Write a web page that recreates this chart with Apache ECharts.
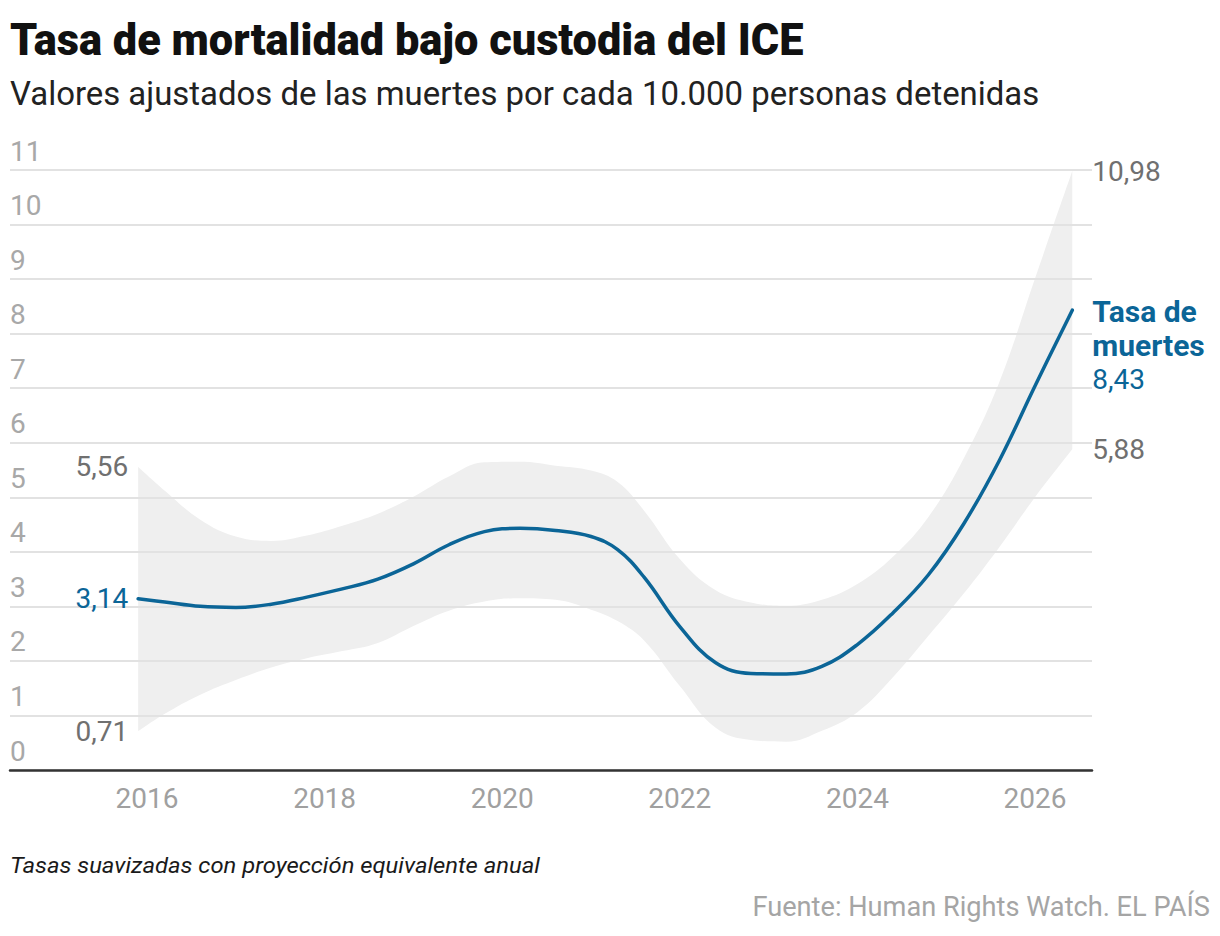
<!DOCTYPE html>
<html>
<head>
<meta charset="utf-8">
<script src="https://cdn.jsdelivr.net/npm/echarts@6/dist/echarts.min.js"></script>
<style>
html,body{margin:0;padding:0;background:#ffffff;}
#chart{width:1220px;height:936px;}
</style>
</head>
<body>
<div id="chart"></div>
<script>
// ---------- texts ----------
const titleText = 'Tasa de mortalidad bajo custodia del ICE';
const subtitleText = 'Valores ajustados de las muertes por cada 10.000 personas detenidas';
const noteText = 'Tasas suavizadas con proyección equivalente anual';
const sourceText = 'Fuente: Human Rights Watch. EL PAÍS';
const seriesName = 'Tasa de muertes';

// ---------- axes ----------
const xTickLabels = [2016, 2018, 2020, 2022, 2024, 2026];
const xRange = [2014.457, 2026.642];
const yMin = 0, yMax = 11, yStep = 1;

// ---------- data (decimal years) ----------
const years = [2015.9, 2016.2, 2016.6, 2017.0, 2017.4, 2017.8, 2018.2, 2018.6, 2019.0, 2019.4,
  2019.8, 2020.2, 2020.6, 2021.0, 2021.3, 2021.6, 2022.0, 2022.4, 2022.8, 2023.2,
  2023.6, 2024.0, 2024.4, 2024.8, 2025.2, 2025.6, 2026.0, 2026.42];
const rateValues = [3.14, 3.08, 3.00, 2.98, 3.04, 3.17, 3.32, 3.50, 3.78, 4.13,
  4.37, 4.43, 4.39, 4.28, 4.04, 3.53, 2.63, 1.97, 1.77, 1.76,
  1.90, 2.30, 2.88, 3.58, 4.52, 5.68, 7.04, 8.43];
const upperValues = [5.56, 5.12, 4.59, 4.28, 4.20, 4.30, 4.48, 4.70, 5.01, 5.38,
  5.64, 5.65, 5.58, 5.49, 5.28, 4.75, 3.87, 3.30, 3.07, 3.01,
  3.12, 3.41, 3.91, 4.64, 5.72, 7.12, 9.01, 10.98];
const lowerValues = [0.71, 1.03, 1.38, 1.65, 1.88, 2.05, 2.18, 2.33, 2.64, 2.92,
  3.09, 3.15, 3.12, 2.94, 2.73, 2.37, 1.54, 0.78, 0.55, 0.52,
  0.72, 1.06, 1.70, 2.46, 3.24, 4.09, 5.00, 5.88];

// ---------- styling ----------
const FONT = 'Roboto, "Liberation Sans", sans-serif';
const BLUE = '#0b6597';
const GREY_LABEL = '#707070';
const BAND = '#efefef';

function fmt(v) { return v.toFixed(2).replace('.', ','); }
function fitScale(text, font, target) {
  const ctx = document.createElement('canvas').getContext('2d');
  ctx.font = font;
  const w = ctx.measureText(text).width;
  return w > 0 ? target / w : 1;
}
function endLabel(side, color) {
  return { show: true, position: side, distance: side === 'left' ? 10 : 20, color: color,
    fontFamily: FONT, fontSize: 28 };
}

// band: value first, year second (so that the stack adds up the values)
const lowerData = years.map((x, i) => {
  const item = { value: [lowerValues[i], x] };
  if (i === 0) item.label = Object.assign(endLabel('left', GREY_LABEL), { formatter: p => fmt(p.value[0]) });
  if (i === years.length - 1) item.label = Object.assign(endLabel('right', GREY_LABEL), { formatter: p => fmt(p.value[0]) });
  return item;
});
const spanData = years.map((x, i) => [+(upperValues[i] - lowerValues[i]).toFixed(3), x]);
const upperData = years.map((x, i) => {
  const item = { value: [x, upperValues[i]] };
  if (i === 0) item.label = Object.assign(endLabel('left', GREY_LABEL), { formatter: p => fmt(p.value[1]) });
  if (i === years.length - 1) item.label = Object.assign(endLabel('right', GREY_LABEL), { formatter: p => fmt(p.value[1]) });
  return item;
});

const lineData = years.map((x, i) => {
  const item = { value: [x, rateValues[i]] };
  if (i === 0) {
    item.label = Object.assign(endLabel('left', BLUE), { formatter: p => fmt(p.value[1]) });
  } else if (i === years.length - 1) {
    const parts = seriesName.split(' ');
    const l1 = parts.slice(0, 2).join(' '), l2 = parts.slice(2).join(' ');
    item.label = { show: true, position: 'right', distance: 20, offset: [0, 35],
      formatter: p => '{b|' + l1 + '}\n{b|' + l2 + '}\n{v|' + fmt(p.value[1]) + '}',
      rich: {
        b: { fontFamily: FONT, fontWeight: 'bold', fontSize: 30, lineHeight: 34, color: BLUE },
        v: { fontFamily: FONT, fontSize: 28, lineHeight: 34, color: BLUE }
      } };
  }
  return item;
});

// ---------- headline texts (condensed to the reference widths) ----------
const titleFont = '900 45px Roboto';
const subFont = '400 33px Roboto';
const noteFont = 'italic 400 22px Roboto';
const srcFont = '400 27px Roboto';
const titleScale = fitScale(titleText, titleFont, 794);
const subScale = fitScale(subtitleText, subFont, 1030);
const noteScale = fitScale(noteText, noteFont, 530);
const srcScale = fitScale(sourceText, srcFont, 458);

const chart = echarts.init(document.getElementById('chart'), null, { renderer: 'svg' });

const option = {
  animation: false,
  backgroundColor: '#ffffff',
  grid: { left: 10, right: 128, top: 170, bottom: 166, containLabel: false },
  xAxis: {
    type: 'value',
    z: 4,
    min: xRange[0],
    max: xRange[1],
    splitLine: { show: false },
    axisTick: { show: false },
    axisLine: { show: true, onZero: false, lineStyle: { color: '#333333', width: 2.5 } },
    axisLabel: {
      customValues: xTickLabels,
      formatter: v => String(v),
      color: '#a0a0a0', fontFamily: FONT, fontSize: 28, margin: 14
    }
  },
  yAxis: {
    type: 'value',
    z: 3,
    min: yMin, max: yMax, interval: yStep,
    axisLine: { show: false },
    axisTick: { show: false },
    splitLine: { show: true, lineStyle: { color: '#e2e2e2', width: 2 } },
    axisLabel: {
      inside: true, margin: 0, align: 'left', verticalAlign: 'bottom',
      padding: [0, 0, 5, 0],
      color: '#a8a8a8', fontFamily: FONT, fontSize: 28
    }
  },
  graphic: [
    { type: 'text', x: 10, y: 40, scaleX: titleScale, silent: true,
      style: { text: titleText, font: titleFont, fill: '#111111', align: 'left', verticalAlign: 'middle' } },
    { type: 'text', x: 10, y: 93, scaleX: subScale, silent: true,
      style: { text: subtitleText, font: subFont, fill: '#222222', align: 'left', verticalAlign: 'middle' } },
    { type: 'text', x: 10, y: 866, scaleX: noteScale, silent: true,
      style: { text: noteText, font: noteFont, fill: '#1a1a1a', align: 'left', verticalAlign: 'middle' } },
    { type: 'text', x: 1210, y: 907, scaleX: srcScale, silent: true,
      style: { text: sourceText, font: srcFont, fill: '#a5a5a5', align: 'right', verticalAlign: 'middle' } }
  ],
  series: [
    {
      name: 'inferior', type: 'line', stack: 'banda', data: lowerData,
      encode: { x: 1, y: 0 },
      smooth: 0.4, symbol: 'circle', symbolSize: 0.01, showSymbol: true,
      lineStyle: { opacity: 0 }, itemStyle: { color: GREY_LABEL },
      silent: true, z: 1
    },
    {
      name: 'intervalo', type: 'line', stack: 'banda', data: spanData,
      encode: { x: 1, y: 0 },
      smooth: 0.4, symbol: 'none', showSymbol: false,
      lineStyle: { opacity: 0 },
      areaStyle: { color: BAND, opacity: 1 },
      silent: true, z: 1
    },
    {
      name: 'superior', type: 'line', data: upperData,
      smooth: 0.4, symbol: 'circle', symbolSize: 0.01, showSymbol: true,
      lineStyle: { opacity: 0 }, itemStyle: { color: GREY_LABEL },
      silent: true, z: 2
    },
    {
      name: seriesName, type: 'line', data: lineData,
      smooth: 0.4, symbol: 'circle', symbolSize: 0.01, showSymbol: true,
      lineStyle: { color: BLUE, width: 3.5, cap: 'round' }, itemStyle: { color: BLUE },
      silent: true, z: 5
    }
  ]
};
chart.setOption(option);
</script>
</body>
</html>
